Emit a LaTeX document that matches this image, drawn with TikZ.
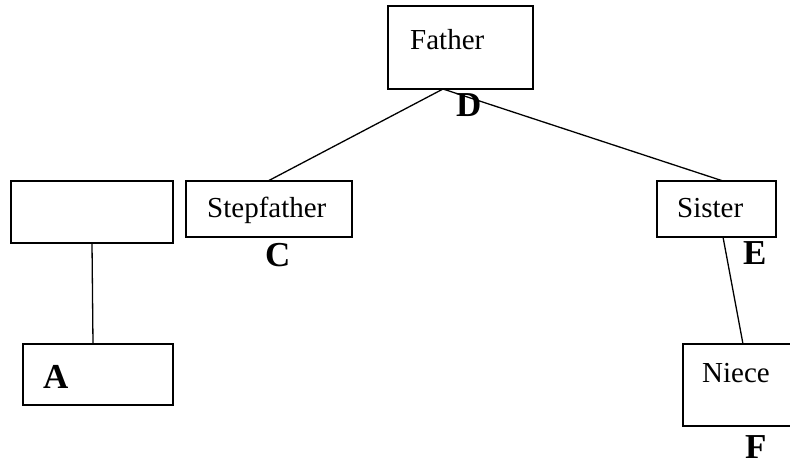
\documentclass[tikz,border=0pt]{standalone}
\usepackage{fontspec}
\setmainfont{Liberation Serif}
\begin{document}
\begin{tikzpicture}[x=1pt,y=-1pt,
  box/.style={draw,line width=1.3pt,rectangle,inner sep=0pt,outer sep=0pt,anchor=north west},
  txt/.style={inner sep=0pt,anchor=base west,font=\fontsize{29}{29}\selectfont},
  lbl/.style={inner sep=0pt,anchor=base west,font=\fontsize{35}{35}\selectfont\bfseries},
  conn/.style={line width=1.3pt}]
\useasboundingbox (0,0) rectangle (790,465);
\clip (0,0) rectangle (790,465);
% boxes
\node[box,minimum width=145pt,minimum height=83pt] (father) at (388,6) {};
\node[box,minimum width=166pt,minimum height=56pt] (step) at (186,181) {};
\node[box,minimum width=162pt,minimum height=62pt] (empty) at (11,181) {};
\node[box,minimum width=150pt,minimum height=61pt] (abox) at (23,344) {};
\node[box,minimum width=119pt,minimum height=56pt] (sister) at (657,181) {};
\node[box,minimum width=120pt,minimum height=82pt] (niece) at (683,344) {};
% texts
\node[txt] (tfather) at (410,50) {Father};
\node[txt] (tstep) at (207,218) {Stepfather};
\node[txt] (tsister) at (677,218) {Sister};
\node[txt] (tniece) at (702,382) {Niece};
% labels
\node[lbl] (la) at (43,388) {A};
\node[lbl] (lc) at (265,266) {C};
\node[lbl] (ld) at (456,117) {D};
\node[lbl] (le) at (743,265) {E};
\node[lbl] (lf) at (745,458) {F};
% connectors
\draw[conn] ([xshift=55pt]father.south west) -- ([xshift=82pt]step.north west);
\draw[conn] ([xshift=55pt]father.south west) -- ([xshift=66pt]sister.north west);
\draw[conn] ([xshift=81pt]empty.south west) -- ([xshift=70pt]abox.north west);
\draw[conn] ([xshift=66pt]sister.south west) -- ([xshift=60pt]niece.north west);
\end{tikzpicture}
\end{document}
